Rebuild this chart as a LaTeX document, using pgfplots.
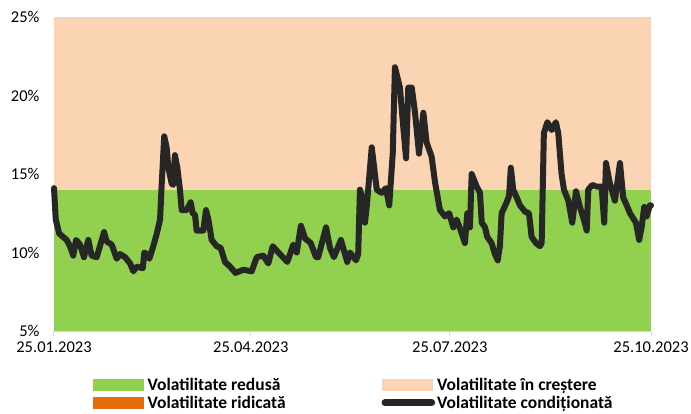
\documentclass[border=0pt]{standalone}
\usepackage{fontspec}
\setmainfont{Carlito}
\usepackage{pgfplots}
\pgfplotsset{compat=1.18}
\definecolor{cgreen}{HTML}{92D050}
\definecolor{cpeach}{HTML}{FBD4B4}
\definecolor{corange}{HTML}{E46C0A}
\definecolor{cline}{HTML}{262626}
\definecolor{caxis}{HTML}{D9D9D9}
\begin{document}
\begin{tikzpicture}
\begin{axis}[
  at={(0pt,0pt)}, anchor=south west,
  scale only axis, width=597pt, height=314pt,
  xmin=0, xmax=273, ymin=5, ymax=25,
  clip=false,
  axis x line*=bottom, axis y line*=left,
  y axis line style={draw=none},
  x axis line style={draw=caxis, line width=1.2pt},
  xtick={0,90,181,273},
  xticklabels={25.01.2023,25.04.2023,25.07.2023,25.10.2023},
  ytick={5,10,15,20,25},
  yticklabel={\pgfmathprintnumber{\tick}\%},
  /pgf/number format/assume math mode=true,
  tick align=outside,
  major tick length=5pt,
  xtick style={draw=caxis, line width=1pt},
  ytick style={draw=none},
  tick label style={font=\fontsize{16.5}{19}\selectfont, text=black},
  yticklabel style={xshift=-6pt},
  xticklabel style={yshift=-2pt},
  legend columns=2,
  legend style={draw=none, fill=none, inner sep=0pt,
    at={(0.0653,-0.2000)}, anchor=west,
    font=\bfseries\fontsize{17.5}{20}\selectfont,
    row sep=0pt,
    /tikz/every even column/.append style={column sep=94pt}},
  legend cell align=left,
]
\addplot[fill=cpeach, draw=none, forget plot] coordinates {(0,14) (0,25) (273,25) (273,14)} -- cycle;
\addplot[fill=cgreen, draw=none, forget plot] coordinates {(0,5) (0,14) (273,14) (273,5)} -- cycle;

\addlegendimage{legend image code/.code={\fill[cgreen] (0pt,-5.5pt) rectangle (50pt,5.5pt); \path (52pt,0pt);}}
\addlegendentry{Volatilitate redusă}
\addlegendimage{legend image code/.code={\fill[cpeach] (0pt,-5.5pt) rectangle (50pt,5.5pt); \path (52pt,0pt);}}
\addlegendentry{Volatilitate în creștere}
\addlegendimage{legend image code/.code={\fill[corange] (0pt,-5.5pt) rectangle (50pt,5.5pt); \path (52pt,0pt);}}
\addlegendentry{Volatilitate ridicată}
\addlegendimage{legend image code/.code={\draw[cline, line width=6.5pt, line cap=round] (3pt,0pt) -- (50pt,0pt); \path (52pt,0pt);}}
\addlegendentry{Volatilitate condiționată}

\addplot[cline, line width=6pt, line join=round, line cap=round, forget plot] coordinates {
(0,14.1) (0.8,12.1) (2.4,11.2) (5.8,10.8) (7.3,10.4) (8.8,9.8) (10.1,10.8) (11.9,10.5)
(13.7,9.7) (15.7,10.8) (17.2,9.8) (19.5,9.7) (21.0,10.4) (22.9,11.3) (24.1,10.7) (26.4,10.5)
(28.7,9.6) (30.2,9.9) (32.5,9.7) (34.8,9.3) (36.3,8.8) (37.8,9.1) (40.6,9.0) (41.3,10.0)
(42.4,9.9) (43.6,9.6) (45.4,10.4) (47.0,11.2) (48.5,12.1) (49.2,14.2) (50.4,17.4) (51.5,16.7)
(52.3,15.4) (53.8,14.4) (54.5,14.3) (55.3,16.2) (56.4,15.4) (57.6,14.0) (58.4,12.7) (60.7,12.7)
(62.5,13.2) (63.4,12.5) (64.5,12.4) (65.2,11.4) (68.3,11.4) (69.5,12.7) (70.6,12.1) (72.1,10.8)
(74.4,10.4) (76.2,10.3) (78.2,9.4) (80.5,9.1) (83.0,8.7) (86.6,8.9) (90.4,8.8) (92.7,9.7)
(95.7,9.8) (98.0,9.3) (100.0,10.4) (103.3,9.9) (106.7,9.4) (109.4,10.5) (111.0,10.0) (112.9,11.7)
(114.8,10.9) (117.4,10.6) (119.8,9.7) (120.8,9.7) (124.4,11.6) (126.2,10.3) (128.0,9.7) (131.2,10.8)
(134.1,9.4) (135.3,10.0) (138.1,9.5) (139.1,9.9) (139.9,14.0) (141.4,13.3) (142.2,11.9) (143.0,12.9)
(145.3,16.7) (147.6,14.0) (149.8,13.8) (151.8,14.1) (153.3,13.0) (154.9,16.3) (155.9,21.8) (158.2,20.5)
(159.7,18.0) (161.0,16.0) (162.0,20.5) (163.6,20.5) (165.1,18.9) (166.9,16.3) (168.9,18.9) (170.4,17.0)
(172.7,16.1) (174.2,14.5) (176.5,12.7) (178.8,12.3) (180.7,12.5) (182.6,11.6) (184.1,12.1) (186.0,11.4)
(187.9,10.6) (189.0,12.5) (190.2,11.6) (191.0,15.0) (193.3,14.2) (194.8,13.8) (195.6,11.9) (197.1,11.6)
(198.1,11.0) (200.1,10.6) (201.6,9.9) (202.9,9.5) (203.9,10.4) (204.7,12.5) (207.0,13.2) (208.1,13.6)
(208.9,15.4) (210.0,14.0) (211.6,13.5) (213.1,13.0) (215.4,12.6) (217.2,12.5) (218.4,11.0) (220.4,10.6)
(222.2,10.4) (223.0,10.6) (224.0,17.6) (225.6,18.3) (227.6,17.8) (229.5,18.3) (230.6,17.6) (232.1,15.0)
(233.2,14.0) (235.2,13.3) (237.0,11.9) (238.7,13.9) (240.5,12.9) (242.3,12.1) (243.6,11.4) (244.3,14.0)
(246.1,14.3) (248.1,14.2) (250.4,14.2) (251.6,11.9) (252.4,15.7) (254.2,14.4) (256.5,13.3) (258.8,15.7)
(260.3,13.5) (261.9,13.0) (263.4,12.5) (265.2,12.1) (266.1,11.9) (267.6,10.8) (268.7,11.6) (269.9,12.9)
(271.0,12.3) (272.5,13.0) (273.0,13.0)
};
\end{axis}
\pgfresetboundingbox
\path (-54pt,-83pt) rectangle (637pt,331pt);
\end{tikzpicture}
\end{document}
